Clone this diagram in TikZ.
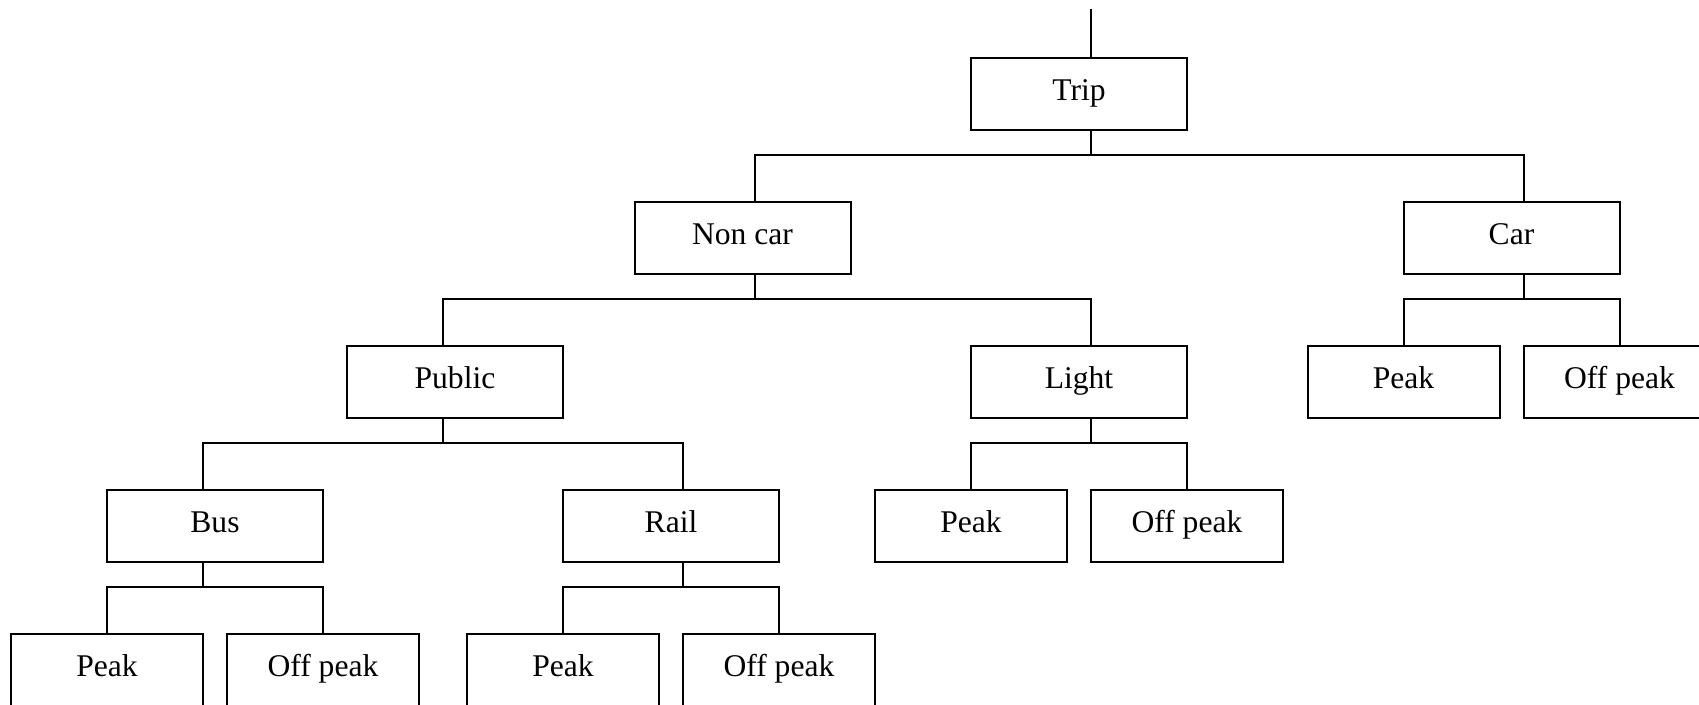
\documentclass[tikz,border=0pt]{standalone}
\usepackage{fontspec}
\setmainfont{Liberation Serif}
\usetikzlibrary{positioning}

\begin{document}
\begin{tikzpicture}[node distance=72pt, on grid, line width=1pt,
	box/.style={draw, rectangle, minimum width=108pt, minimum height=36pt, inner sep=0pt,
		font=\fontsize{15.8}{19}\selectfont, text height=11pt, text depth=5pt},
	leaf/.style={box, minimum width=96pt}]
	\useasboundingbox (0,0) rectangle (849.5pt,-352.5pt);
	\clip (0,0) rectangle (849.5pt,-352.5pt);

	\node[box] (trip) at (539.5pt,-47.25pt) {Trip};
	\node[box, below left=72pt and 168.25pt of trip] (noncar) {Non car};
	\node[box, below right=72pt and 216.25pt of trip] (car) {Car};
	\node[box, below left=72pt and 143.75pt of noncar] (public) {Public};
	\node[box, below right=72pt and 168.25pt of noncar] (light) {Light};
	\node[leaf, below left=72pt and 54pt of car] (car_peak) {Peak};
	\node[leaf, below right=72pt and 54pt of car] (car_off) {Off peak};
	\node[box, below left=72pt and 120pt of public] (bus) {Bus};
	\node[box, below right=72pt and 108pt of public] (rail) {Rail};
	\node[leaf, below left=72pt and 54pt of light] (light_peak) {Peak};
	\node[leaf, below right=72pt and 54pt of light] (light_off) {Off peak};
	\node[leaf, below left=72pt and 54pt of bus] (bus_peak) {Peak};
	\node[leaf, below right=72pt and 54pt of bus] (bus_off) {Off peak};
	\node[leaf, below left=72pt and 54pt of rail] (rail_peak) {Peak};
	\node[leaf, below right=72pt and 54pt of rail] (rail_off) {Off peak};

	\coordinate (top) at ([shift={(6pt,24pt)}]trip.north);
	\draw (top) -- ([xshift=6pt]trip.north);

	% trip -> non car / car
	\draw ([xshift=6pt]trip.south) -- ++(0,-12pt) -| ([xshift=6pt]noncar.north);
	\draw ([xshift=6pt]trip.south) -- ++(0,-12pt) -| ([xshift=6pt]car.north);
	% non car -> public / light
	\draw ([xshift=6pt]noncar.south) -- ++(0,-12pt) -| ([xshift=-6pt]public.north);
	\draw ([xshift=6pt]noncar.south) -- ++(0,-12pt) -| ([xshift=6pt]light.north);
	% public -> bus / rail
	\draw ([xshift=-6pt]public.south) -- ++(0,-12pt) -| ([xshift=-6pt]bus.north);
	\draw ([xshift=-6pt]public.south) -- ++(0,-12pt) -| ([xshift=6pt]rail.north);
	% peak / off peak
	\draw ([xshift=6pt]car.south) -- ++(0,-12pt) -| (car_peak.north);
	\draw ([xshift=6pt]car.south) -- ++(0,-12pt) -| (car_off.north);
	\draw ([xshift=6pt]light.south) -- ++(0,-12pt) -| (light_peak.north);
	\draw ([xshift=6pt]light.south) -- ++(0,-12pt) -| (light_off.north);
	\draw ([xshift=-6pt]bus.south) -- ++(0,-12pt) -| (bus_peak.north);
	\draw ([xshift=-6pt]bus.south) -- ++(0,-12pt) -| (bus_off.north);
	\draw ([xshift=6pt]rail.south) -- ++(0,-12pt) -| (rail_peak.north);
	\draw ([xshift=6pt]rail.south) -- ++(0,-12pt) -| (rail_off.north);
\end{tikzpicture}
\end{document}
